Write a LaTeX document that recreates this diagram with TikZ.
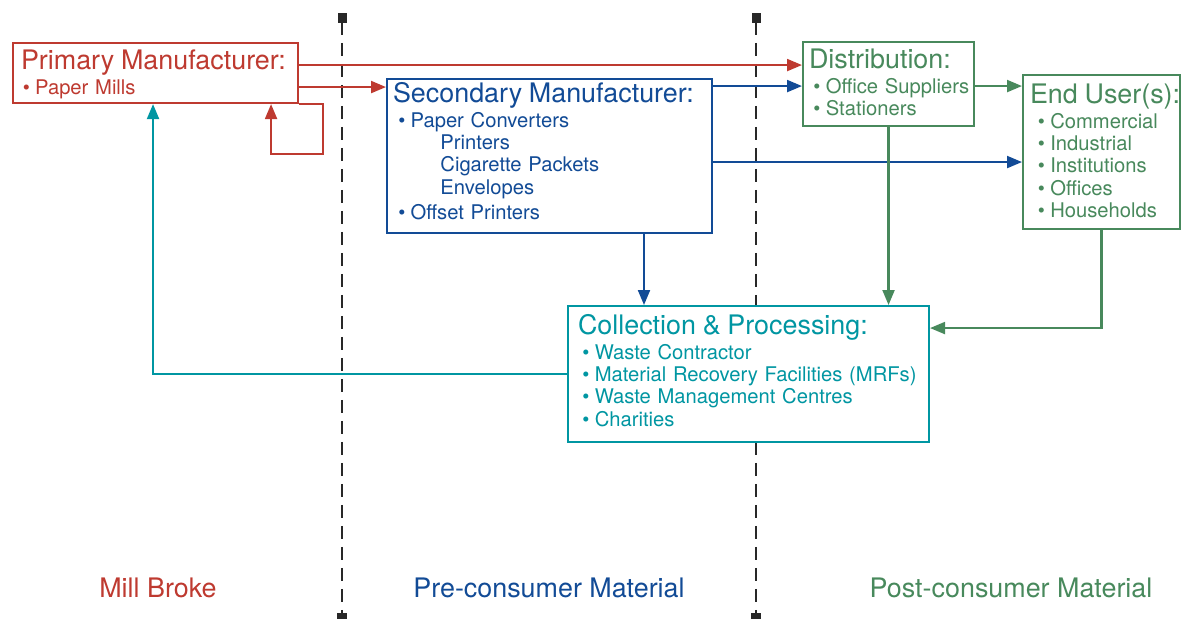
\documentclass[tikz,border=0pt]{standalone}
\usepackage{fontspec}
\setmainfont{TeX Gyre Heros}
\usetikzlibrary{arrows.meta}
\definecolor{millred}{RGB}{190,58,48}
\definecolor{preblue}{RGB}{18,75,150}
\definecolor{postgreen}{RGB}{72,137,92}
\definecolor{collteal}{RGB}{0,150,162}
\definecolor{divgray}{RGB}{40,40,40}
\newcommand{\boxtitlefont}{\fontsize{15.3}{18}\selectfont}
\newcommand{\boxlistfont}{\fontsize{11.5}{12.7}\selectfont}
\newcommand{\btitle}[1]{\mbox{\boxtitlefont #1}}
\newcommand{\bitem}[2][2.5pt]{\mbox{\hspace*{#1}\textbullet\hspace{3pt}#2}}
\newcommand{\bsub}[1]{\mbox{\hspace*{27pt}#1}}

\begin{document}
\begin{tikzpicture}[x=0.02cm, y=-0.02cm,
    box/.style={draw=#1, text=#1, fill=white, line width=1.2pt, anchor=north west,
        align=left, inner ysep=0pt, font=\boxlistfont},
    link/.style={draw=#1, line width=1.2pt, -{Triangle[length=0.3cm,width=0.24cm]}},
    divider/.style={line width=1.6pt, dash pattern=on 0.26cm off 0.16cm, divgray}]
    \useasboundingbox (0,0) rectangle (1190,619);

    % phase dividers
    \foreach \xd in {342,756} {
        \draw[divider] (\xd,22) -- (\xd,613);
        \fill[divgray] (\xd-4.5,13) rectangle (\xd+4.5,23);
        \fill[divgray] (\xd-5,613) rectangle (\xd+5,619);
    }

    % boxes
    \node[box=millred, minimum width=5.7cm, text width=5.38cm, inner xsep=0.16cm,
        text height=0.52cm, text depth=0.68cm] (primary) at (12,42)
        {\btitle{Primary Manufacturer:}\\[1.6pt]\bitem[1pt]{Paper Mills}};
    \node[box=preblue, minimum width=6.5cm, text width=6.26cm, inner xsep=0.12cm,
        text height=0.46cm, text depth=2.62cm] (secondary) at (386,78)
        {\btitle{Secondary Manufacturer:}\\[1.6pt]\bitem[3pt]{Paper Converters}\\
         \bsub{Printers}\\ \bsub{Cigarette Packets}\\ \bsub{Envelopes}\\[1.5pt]
         \bitem[3pt]{Offset Printers}};
    \node[box=postgreen, minimum width=3.42cm, text width=3.18cm, inner xsep=0.12cm,
        text height=0.52cm, text depth=1.16cm] (distrib) at (802,41)
        {\btitle{Distribution:}\\[1.6pt]\bitem{Office Suppliers}\\ \bitem{Stationers}};
    \node[box=postgreen, minimum width=3.14cm, text width=2.86cm, inner xsep=0.14cm,
        text height=0.56cm, text depth=2.52cm] (enduser) at (1022,74)
        {\btitle{End User(s):}\\[1.6pt]\bitem[4.5pt]{Commercial}\\ \bitem[4.5pt]{Industrial}\\
         \bitem[4.5pt]{Institutions}\\ \bitem[4.5pt]{Offices}\\ \bitem[4.5pt]{Households}};
    \node[box=collteal, minimum width=7.22cm, text width=6.82cm, inner xsep=0.2cm,
        text height=0.56cm, text depth=2.16cm] (collect) at (567,305)
        {\btitle{Collection \& Processing:}\\[1.6pt]\bitem{Waste Contractor}\\
         \bitem{Material Recovery Facilities (MRFs)}\\ \bitem{Waste Management Centres}\\
         \bitem{Charities}};

    % flows
    \draw[link=millred] ([yshift=0.16cm]primary.east) -- ([yshift=0.16cm]primary.east -| distrib.west);
    \draw[link=millred] ([yshift=-0.28cm]primary.east) -- ([yshift=-0.28cm]primary.east -| secondary.west);
    \draw[link=millred] (primary.south east) -- ++(24,0) -- ++(0,50) -| ([xshift=-0.56cm]primary.south east);
    \draw[link=preblue] ([yshift=1.4cm]secondary.east) -- ([yshift=1.4cm]secondary.east -| distrib.west);
    \draw[link=preblue] ([yshift=-0.12cm]secondary.east) -- ([yshift=-0.12cm]secondary.east -| enduser.west);
    \draw[link=preblue] ([xshift=1.89cm]secondary.south) -- ([xshift=1.89cm]secondary.south |- collect.north);
    \draw[link=postgreen] ([yshift=-0.04cm]distrib.east) -- ([yshift=-0.04cm]distrib.east -| enduser.west);
    \draw[link=postgreen] (distrib.south) -- (distrib.south |- collect.north);
    \draw[link=postgreen] (enduser.south) |- ([yshift=0.92cm]collect.east);
    \draw[link=collteal] (collect.west) -| ([xshift=-0.05cm]primary.south);

    % phase labels
    \node[font=\boxtitlefont, text=millred] (millbroke) at (158,588) {Mill Broke};
    \node[font=\boxtitlefont, text=preblue] (preconsumer) at (549,588) {Pre-consumer Material};
    \node[font=\boxtitlefont, text=postgreen] (postconsumer) at (1011,588) {Post-consumer Material};
\end{tikzpicture}
\end{document}
